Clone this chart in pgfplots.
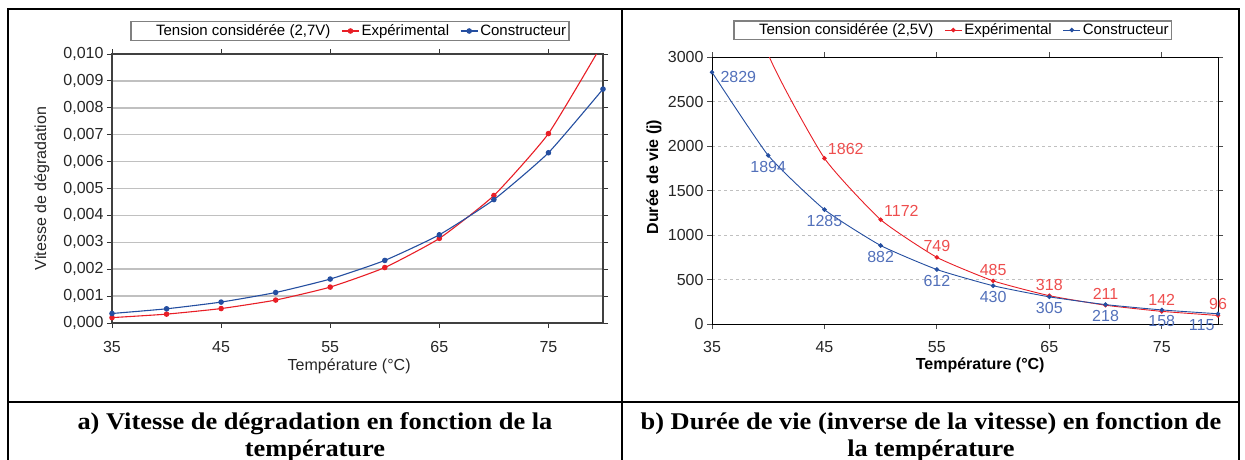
\documentclass[border=0pt]{standalone}
\usepackage{pgfplots}
\pgfplotsset{compat=1.18}
\usepackage{pgfplotstable}
\usepackage{fontspec}
\setmainfont{Liberation Sans}
\newfontfamily\capfont[FakeStretch=1.1]{Liberation Serif}

\definecolor{cexp}{RGB}{232,30,38}
\definecolor{ccons}{RGB}{36,78,160}
\definecolor{lexp}{RGB}{238,78,78}
\definecolor{lcons}{RGB}{82,112,186}
\definecolor{gridc}{RGB}{192,192,192}

% vitesse de degradation (2,7 V)
\pgfplotstableread{
T vexp vcons
35 0.000200 0.000353
40 0.000330 0.000528
45 0.000537 0.000778
50 0.000853 0.001134
55 0.001335 0.001634
60 0.002062 0.002326
65 0.003145 0.003279
70 0.004739 0.004587
75 0.007042 0.006329
80 0.010417 0.008696
}\vitesse

% duree de vie (2,5 V)
\pgfplotstableread{
T dexp dcons
35 5000 2829
40 3030 1894
45 1862 1285
50 1172 882
55 749 612
60 485 430
65 318 305
70 211 218
75 142 158
80 96 115
}\duree

\pgfplotsset{
  lab/.style={draw=none, mark=none, forget plot, point meta=explicit symbolic,
    nodes near coords={\pgfplotspointmeta},
    every node near coord/.append style={anchor=#1, font=\fontsize{16}{16}\selectfont}},
  blank legend/.style={legend image code/.code={\path[draw=none, fill=none] (0pt,0pt) -- (22pt,0pt);}},
}

\begin{document}
\begin{tikzpicture}
\useasboundingbox (0,0) rectangle (1245pt,459pt);

% cadre du tableau
\draw[line width=2pt] (8pt,-5pt) -- (8pt,450pt) -- (1239pt,450pt) -- (1239pt,-5pt);
\draw[line width=2pt] (622pt,450pt) -- (622pt,-5pt);
\draw[line width=2pt] (8pt,57pt) -- (1239pt,57pt);

\tikzset{captxt/.style={anchor=base, inner sep=0pt, font=\capfont\bfseries\fontsize{24}{27}\selectfont}}
\node[captxt] at (315pt,30pt) {a) Vitesse de dégradation en fonction de la};
\node[captxt] at (315pt,3pt) {température};
\node[captxt] at (931pt,30pt) {b) Durée de vie (inverse de la vitesse) en fonction de};
\node[captxt] at (931pt,3pt) {la température};

% a) vitesse
\begin{axis}[
  at={(112pt,136pt)}, anchor=south west,
  scale only axis, width=491pt, height=269pt,
  xmin=35, xmax=80, ymin=0, ymax=0.010,
  xtick={35,45,55,65,75},
  ytick={0,0.001,0.002,0.003,0.004,0.005,0.006,0.007,0.008,0.009,0.010},
  scaled y ticks=false,
  yticklabel style={/pgf/number format/.cd, fixed, fixed zerofill, precision=3, use comma},
  xticklabel style={yshift=-10pt},
  /pgf/number format/assume math mode=true,
  tick label style={font=\fontsize{16}{16}\selectfont, text=black!85},
  tick align=outside, major tick length=5pt,
  tick style={black!80, line width=1pt},
  axis line style={black!75, line width=1.5pt},
  ymajorgrids, major grid style={gridc, line width=1.5pt},
  xlabel={Température (°C)}, ylabel={Vitesse de dégradation},
  label style={font=\fontsize{16}{16}\selectfont, text=black!85},
  xlabel style={at={(axis description cs:0.483,-0.16)}, anchor=center},
  ylabel style={at={(axis description cs:-0.143,0.5)}, anchor=center},
  legend columns=3,
  legend style={at={(0.485,1.0855)}, anchor=center, draw=gray, line width=1.5pt,
    font=\fontsize{15}{15}\selectfont, inner sep=1pt, row sep=0pt,
    /tikz/every even column/.append style={column sep=9pt}},
  clip=true,
]
\addlegendimage{blank legend}
\addplot[cexp, line width=1.1pt, smooth, tension=0.3, mark=*, mark size=2.2pt]
  table[x=T, y=vexp] {\vitesse};
\addplot[ccons, line width=1.1pt, smooth, tension=0.3, mark=*, mark size=2.2pt]
  table[x=T, y=vcons] {\vitesse};
\legend{{Tension considérée (2,7V)}, Expérimental, Constructeur}
\end{axis}

% b) duree de vie
\begin{axis}[
  at={(712pt,135pt)}, anchor=south west,
  scale only axis, width=506pt, height=267pt,
  xmin=35, xmax=80, ymin=0, ymax=3000,
  xtick={35,45,55,65,75},
  ytick={0,500,1000,1500,2000,2500,3000},
  /pgf/number format/.cd, 1000 sep={}, assume math mode=true, /pgfplots/.cd,
  xticklabel style={yshift=-9pt},
  tick label style={font=\fontsize{16}{16}\selectfont, text=black!85},
  tick align=outside, major tick length=5pt,
  tick style={black!70, line width=1pt},
  axis line style={black, line width=1pt},
  ymajorgrids, major grid style={gridc, line width=1pt, dash pattern=on 3pt off 3pt},
  xlabel={Température (°C)}, ylabel={Durée de vie (j)},
  label style={font=\bfseries\fontsize{16}{16}\selectfont},
  xlabel style={at={(axis description cs:0.53,-0.153)}, anchor=center},
  ylabel style={at={(axis description cs:-0.115,0.55)}, anchor=center},
  legend columns=3,
  legend style={at={(0.476,1.101)}, anchor=center, draw=gray, line width=1.5pt,
    font=\fontsize{15}{15}\selectfont, inner sep=1pt, row sep=0pt,
    /tikz/every even column/.append style={column sep=9pt}},
  clip=true,
]
\addlegendimage{blank legend}
\addplot[cexp, line width=0.9pt, smooth, tension=0.3, mark=*, mark size=1.8pt]
  table[x=T, y=dexp] {\duree};
\addplot[ccons, line width=0.9pt, smooth, tension=0.3, mark=*, mark size=1.8pt]
  table[x=T, y=dcons] {\duree};
\legend{{Tension considérée (2,5V)}, Expérimental, Constructeur}
% etiquettes
\addplot[lab=south west, nodes near coords style={text=lexp}]
  coordinates {(45,1862) [1862] (50,1172) [1172]};
\addplot[lab=south, nodes near coords style={text=lexp, yshift=2pt}]
  coordinates {(55,749) [749] (60,485) [485] (65,318) [318] (70,211) [211] (75,142) [142] (80,96) [96]};
\addplot[lab=west, nodes near coords style={text=lcons, xshift=5pt, yshift=-5pt}]
  coordinates {(35,2829) [2829]};
\addplot[lab=north, nodes near coords style={text=lcons, yshift=-2pt}]
  coordinates {(40,1894) [1894] (45,1285) [1285] (50,882) [882] (55,612) [612] (60,430) [430] (65,305) [305] (70,218) [218] (75,158) [158]};
\addplot[lab=north east, nodes near coords style={text=lcons, yshift=-2pt}]
  coordinates {(80,115) [115]};
\end{axis}
\end{tikzpicture}
\end{document}
